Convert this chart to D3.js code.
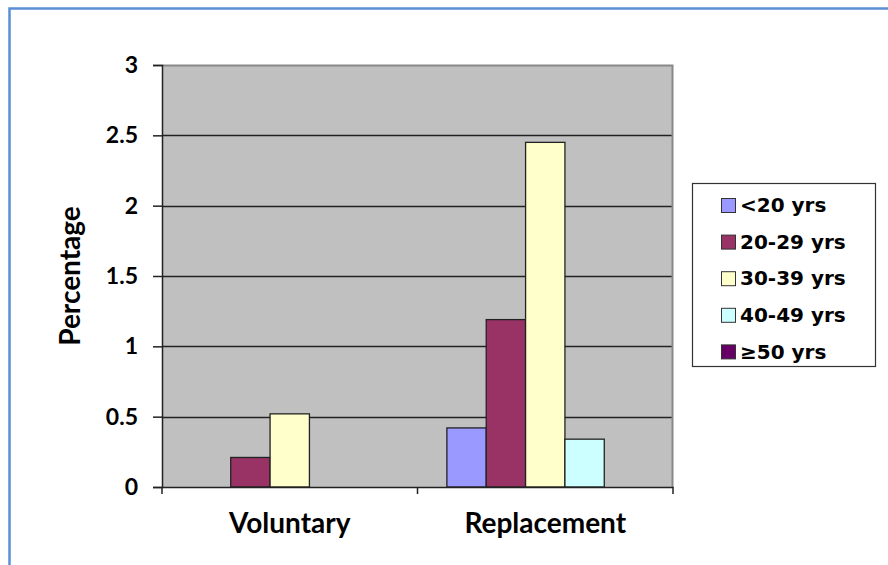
<!DOCTYPE html>
<html>
<head>
<meta charset="utf-8">
<script src="https://d3js.org/d3.v7.min.js"></script>
<style>
  body { margin: 0; background: #fff; }
</style>
</head>
<body>
<svg id="chart" width="888" height="565"></svg>
<script>
var categories = ["Voluntary", "Replacement"];
var groups = ["<20 yrs", "20-29 yrs", "30-39 yrs", "40-49 yrs", "\u226550 yrs"];
var colors = ["#9999ff", "#993366", "#ffffcc", "#ccffff", "#660066"];
var values = {
  "Voluntary":   [0, 0.21, 0.52, 0, 0],
  "Replacement": [0.42, 1.19, 2.45, 0.34, 0]
};
var yTicks = [0, 0.5, 1, 1.5, 2, 2.5, 3];

var svg = d3.select("#chart"),
    margin = {top: 65, right: 215, bottom: 78, left: 162},
    width = +svg.attr("width") - margin.left - margin.right,
    height = +svg.attr("height") - margin.top - margin.bottom;

var axisFont = "Lato, 'Open Sans', sans-serif";

// outer blue frame
svg.append("rect")
    .attr("x", 9.5).attr("y", 8.5)
    .attr("width", 900).attr("height", 600)
    .attr("fill", "none")
    .attr("stroke", "#5b8fd6")
    .attr("stroke-width", 2.5);

var g = svg.append("g").attr("transform", "translate(" + margin.left + "," + margin.top + ")");

var x0 = d3.scaleBand().domain(categories).range([0, width]).paddingInner(0).paddingOuter(0);
var x1 = d3.scaleBand().domain(groups).range([x0.bandwidth() * 0.115, x0.bandwidth() * 0.885]);
var y = d3.scaleLinear().domain([0, 3]).range([height, 0]);

g.append("rect")
    .attr("width", width).attr("height", height)
    .attr("fill", "#c0c0c0");

// gridlines
g.selectAll(".grid")
  .data(yTicks.filter(function(d) { return d > 0 && d < 3; }))
  .enter().append("line")
    .attr("x1", 0).attr("x2", width)
    .attr("y1", function(d) { return Math.round(y(d)) + 0.5; })
    .attr("y2", function(d) { return Math.round(y(d)) + 0.5; })
    .attr("stroke", "#222").attr("stroke-width", 1.5);

// top and right frame
g.append("path")
    .attr("d", "M0," + (y(3) + 0.5) + "H" + (width - 0.5) + "V" + height)
    .attr("fill", "none").attr("stroke", "#888").attr("stroke-width", 2);

// bars
var cat = g.selectAll(".cat")
  .data(categories)
  .enter().append("g")
    .attr("transform", function(d) { return "translate(" + x0(d) + ",0)"; });

cat.selectAll("rect")
  .data(function(c) { return values[c].map(function(v, i) { return {k: groups[i], v: v, i: i}; }); })
  .enter().filter(function(d) { return d.v > 0; }).append("rect")
    .attr("x", function(d) { return x1(d.k); })
    .attr("width", x1.bandwidth())
    .attr("y", function(d) { return y(d.v); })
    .attr("height", function(d) { return height - y(d.v); })
    .attr("fill", function(d) { return colors[d.i]; })
    .attr("stroke", "#222").attr("stroke-width", 1.3);

// y axis
var yAxis = g.append("g")
    .call(d3.axisLeft(y).tickValues(yTicks).tickSize(9).tickPadding(15).tickFormat(d3.format("")));
yAxis.selectAll("text")
    .style("font-family", axisFont)
    .style("font-weight", "bold").style("font-size", "23px").attr("fill", "#000");
yAxis.selectAll("line, path").attr("stroke", "#222").attr("stroke-width", 1.5);

// x axis
var xAxis = g.append("g")
    .attr("transform", "translate(0," + height + ")")
    .call(d3.axisBottom(x0).tickSize(0).tickPadding(26));
xAxis.select(".domain").attr("stroke", "#222").attr("stroke-width", 1.5);
xAxis.selectAll("text")
    .style("font-family", axisFont)
    .style("font-weight", "bold").style("font-size", "28px").attr("fill", "#000");

g.selectAll(".xtick")
  .data([0, width / 2, width])
  .enter().append("line")
    .attr("x1", function(d) { return d; }).attr("x2", function(d) { return d; })
    .attr("y1", height).attr("y2", height + 7)
    .attr("stroke", "#222").attr("stroke-width", 1.5);

// y title
svg.append("text")
    .attr("transform", "translate(80," + (margin.top + height / 2) + ") rotate(-90)")
    .attr("text-anchor", "middle")
    .style("font-family", axisFont)
    .style("font-weight", "bold").style("font-size", "28px")
    .text("Percentage");

// legend
var lg = svg.append("g").attr("transform", "translate(692,183)");
lg.append("rect")
    .attr("x", 0.5).attr("y", 0.5).attr("width", 183).attr("height", 183)
    .attr("fill", "#fff").attr("stroke", "#333").attr("stroke-width", 1.2);

var item = lg.selectAll(".item")
  .data(groups)
  .enter().append("g")
    .attr("transform", function(d, i) { return "translate(29," + (22 + i * 36.6) + ")"; });

item.append("rect")
    .attr("x", 0.5).attr("y", -6.5).attr("width", 14).attr("height", 14)
    .attr("fill", function(d, i) { return colors[i]; })
    .attr("stroke", "#333").attr("stroke-width", 1);

item.append("text")
    .attr("x", 19).attr("dy", "0.36em")
    .style("font-family", "'DejaVu Sans', Verdana, sans-serif")
    .style("font-weight", "bold").style("font-size", "20px")
    .text(function(d) { return d; });
</script>
</body>
</html>
